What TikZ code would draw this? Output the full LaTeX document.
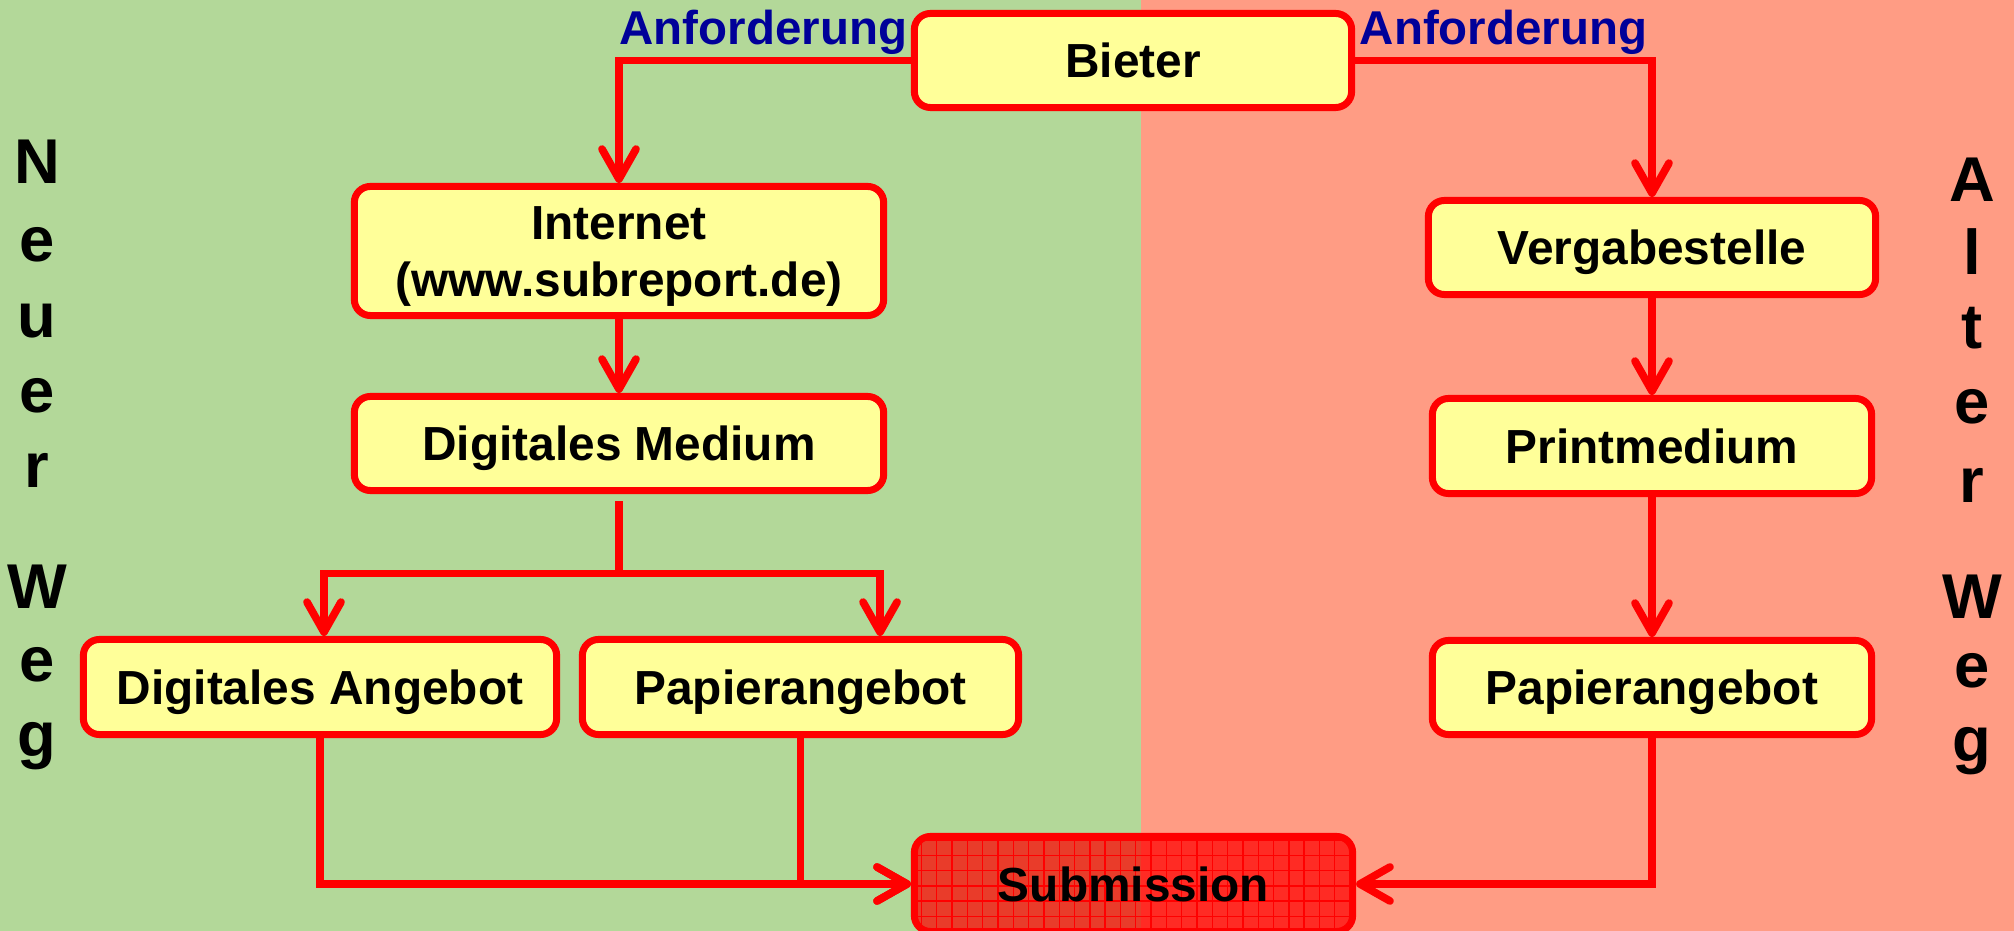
\documentclass[tikz,border=0pt]{standalone}
\usepackage{fontspec}
\setmainfont{Liberation Sans}
\usetikzlibrary{arrows.meta}
\definecolor{bggreen}{HTML}{B3D899}
\definecolor{bgsalmon}{HTML}{FF9C84}
\definecolor{boxfill}{HTML}{FFFF99}
\definecolor{lblue}{HTML}{000099}
\begin{document}
\begin{tikzpicture}[x=0.01cm,y=-0.01cm,
  box/.style={draw=red, line width=0.07cm, fill=boxfill, rounded corners=0.16cm,
    inner sep=0pt, font=\fontsize{13.6pt}{16.4pt}\selectfont\bfseries,
    text height=9.75pt, text depth=0pt, align=center},
  subbox/.style={box, fill=red, fill opacity=0.72, text opacity=1,
    path picture={\draw[red, line width=0.4pt]
      (path picture bounding box.south west) grid[step=0.153cm]
      (path picture bounding box.north east);}},
  conn/.style={draw=red, line width=0.077cm},
  arr/.style={conn, -{Straight Barb[length=0.3cm,width=0.34cm,round]}},
  lbl/.style={text=lblue, inner sep=0pt, font=\fontsize{13.5pt}{16pt}\selectfont\bfseries},
  side/.style={anchor=base, inner sep=0pt, font=\fontsize{18pt}{22pt}\selectfont\bfseries}
]
\useasboundingbox (0,0) rectangle (2014,931);
\fill[bggreen] (0,0) rectangle (1141,931);
\fill[bgsalmon] (1141,0) rectangle (2014,931);

% boxes
\node[box, minimum width=4.37cm, minimum height=0.94cm] (bieter) at (1133,60.5) {Bieter};
\node[box, minimum width=5.29cm, minimum height=1.29cm, text height=26.15pt] (inet) at (619,251) {Internet\\(www.subreport.de)};
\node[box, minimum width=5.29cm, minimum height=0.94cm] (dm) at (619,443.5) {Digitales Medium};
\node[box, minimum width=4.73cm, minimum height=0.95cm] (da) at (320,687) {Digitales Angebot};
\node[box, minimum width=4.36cm, minimum height=0.95cm] (pl) at (800.5,687) {Papierangebot};
\node[box, minimum width=4.47cm, minimum height=0.94cm] (verg) at (1652,247.5) {Vergabestelle};
\node[box, minimum width=4.39cm, minimum height=0.95cm] (print) at (1652,446) {Printmedium};
\node[box, minimum width=4.39cm, minimum height=0.94cm] (pr) at (1652,687.5) {Papierangebot};
\node[subbox, minimum width=4.38cm, minimum height=0.95cm] (sub) at (1133.5,884) {Submission};

% labels
\node[lbl, anchor=base west] (anf1) at (619,45) {Anforderung};
\node[lbl, anchor=base east] (anf2) at (1648,45) {Anforderung};

% connectors
\draw[arr] (bieter.west) -| (inet.north);
\draw[arr] (bieter.east) -| (verg.north);
\draw[arr] (inet.south) -- (dm.north);
\coordinate (split) at (619,573.5);
\draw[conn] ([yshift=-0.07cm]dm.south) -- (split);
\draw[arr] (split) -| ([xshift=0.04cm]da.north);
\draw[arr] (split) -| ([xshift=0.795cm]pl.north);
\draw[arr] (verg.south) -- (print.north);
\draw[arr] (print.south) -- (pr.north);
\draw[arr] (da.south) |- (sub.west);
\draw[arr] (pl.south) |- (sub.west);
\draw[arr] (pr.south) |- (sub.east);

% side texts
\node[side] (n1) at (37,184) {N};
\node[side] (n2) at (37,262) {e};
\node[side] (n3) at (37,338) {u};
\node[side] (n4) at (37,413) {e};
\node[side] (n5) at (37,488) {r};
\node[side] (n6) at (37,609) {W};
\node[side] (n7) at (37,682) {e};
\node[side] (n8) at (37,757) {g};
\node[side] (a1) at (1972,202) {A};
\node[side] (a2) at (1972,275) {l};
\node[side] (a3) at (1972,349) {t};
\node[side] (a4) at (1972,424) {e};
\node[side] (a5) at (1972,503) {r};
\node[side] (a6) at (1972,619) {W};
\node[side] (a7) at (1972,688) {e};
\node[side] (a8) at (1972,762) {g};
\end{tikzpicture}
\end{document}
